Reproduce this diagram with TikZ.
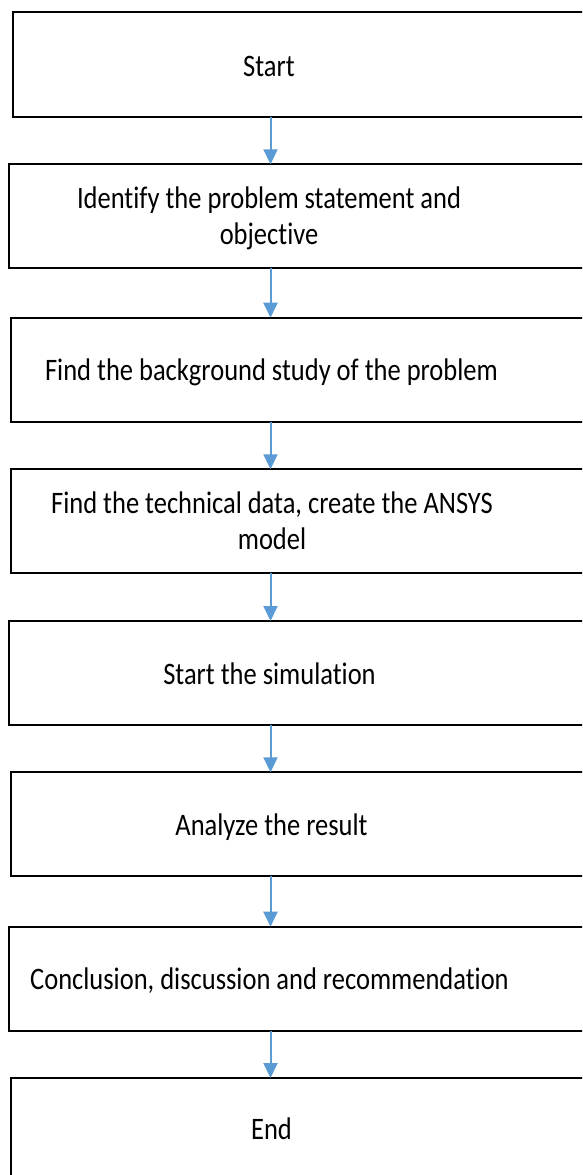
\documentclass[tikz,border=0pt]{standalone}
\usepackage{fontspec}
\setmainfont{Carlito}[Ligatures={NoCommon}]
\usepackage{graphicx}
\usetikzlibrary{arrows.meta}
\definecolor{flowblue}{HTML}{5B9BD5}
% step label: centred lines, slightly tall letterforms
\newcommand\steptext[1]{\scalebox{1}[1.18]{\begin{tabular}[b]{@{}c@{}}#1\end{tabular}}}
\begin{document}
\begin{tikzpicture}[x=1pt,y=-1pt,
  stepbox/.style={draw=black, line width=1.9pt, rectangle, inner sep=0pt, outer sep=0pt, anchor=north west},
  steplabel/.style={inner sep=0pt, anchor=base, font=\fontsize{26.5}{30.5}\selectfont},
  flow/.style={draw=flowblue, line width=2pt, -{Triangle[length=15pt,width=14pt]}}]
\useasboundingbox (0,0) rectangle (582,1175);
\clip (0,0) rectangle (582,1175);
\fill[white] (0,0) rectangle (582,1175);

% boxes (right edges run past the page)
\node[stepbox, minimum width=607.3pt, minimum height=104.4pt] (b1) at (12.7,12.3) {};
\node[stepbox, minimum width=611pt,   minimum height=103.4pt] (b2) at (9,164.3) {};
\node[stepbox, minimum width=609pt,   minimum height=104pt]   (b3) at (11,317.7) {};
\node[stepbox, minimum width=609pt,   minimum height=104pt]   (b4) at (11,469.3) {};
\node[stepbox, minimum width=611.3pt, minimum height=104pt]   (b5) at (8.7,621) {};
\node[stepbox, minimum width=609pt,   minimum height=103.7pt] (b6) at (11,772.3) {};
\node[stepbox, minimum width=611.3pt, minimum height=104.3pt] (b7) at (8.7,926.7) {};
\node[stepbox, minimum width=609pt,   minimum height=110pt]   (b8) at (11,1078) {};

% labels
\node[steplabel] (t1) at (269,76)    {\steptext{Start}};
\node[steplabel] (t2) at (269,244.3) {\steptext{Identify the problem statement and\\objective}};
\node[steplabel] (t3) at (271.5,380) {\steptext{Find the background study of the problem}};
\node[steplabel] (t4) at (272,549.3) {\steptext{Find the technical data, create the ANSYS\\model}};
\node[steplabel] (t5) at (269.5,684) {\steptext{Start the simulation}};
\node[steplabel] (t6) at (271.5,835) {\steptext{Analyze the result}};
\node[steplabel] (t7) at (269.5,989.3) {\steptext{Conclusion, discussion and recommendation}};
\node[steplabel] (t8) at (271.5,1139.3) {\steptext{End}};

% connectors
\coordinate (ax) at (270.5,0);
\draw[flow] (b1.south -| ax) -- (b2.north -| ax);
\draw[flow] (b2.south -| ax) -- (b3.north -| ax);
\draw[flow] (b3.south -| ax) -- (b4.north -| ax);
\draw[flow] (b4.south -| ax) -- (b5.north -| ax);
\draw[flow] (b5.south -| ax) -- (b6.north -| ax);
\draw[flow] (b6.south -| ax) -- (b7.north -| ax);
\draw[flow] (b7.south -| ax) -- (b8.north -| ax);
\end{tikzpicture}
\end{document}
